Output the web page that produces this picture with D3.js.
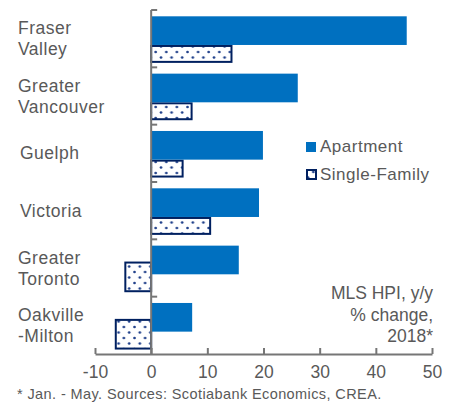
<!DOCTYPE html>
<html>
<head>
<meta charset="utf-8">
<script src="https://cdn.jsdelivr.net/npm/d3@7"></script>
<style>
  body { margin: 0; background: #fff; }
  svg { display: block; font-family: "Liberation Sans", Arial, sans-serif; }
</style>
</head>
<body>
<div id="vis"></div>
<script>
var categories = [["Fraser", "Valley"], ["Greater", "Vancouver"], ["Guelph"], ["Victoria"], ["Greater", "Toronto"], ["Oakville", "-Milton"]];
var apartment = [45.5, 26.1, 19.9, 19.2, 15.6, 7.3];
var singleFamily = [14.3, 7.2, 5.6, 10.5, -4.6, -6.3];
var xTicks = [-10, 0, 10, 20, 30, 40, 50];
var seriesNames = ["Apartment", "Single-Family"];
var noteLines = ["MLS HPI, y/y", "% change,", "2018*"];
var footnote = "* Jan. - May. Sources: Scotiabank Economics, CREA.";

var width = 456;
var height = 404;
var textColor = "#595959";
var axisColor = "#767676";
var blue = "#0070C0";
var navy = "#002060";

var svgElement = d3.select("#vis").append("svg")
    .attr("width", width)
    .attr("height", height);

// dotted fill for single-family bars
var pattern = svgElement.append("defs").append("pattern")
    .attr("id", "dots")
    .attr("patternUnits", "userSpaceOnUse")
    .attr("width", 10.6)
    .attr("height", 11);
pattern.append("rect").attr("width", 10.6).attr("height", 11).attr("fill", "#fff");
pattern.append("circle").attr("cx", 2).attr("cy", 2.5).attr("r", 1.35).attr("fill", "#1f3f8a");
pattern.append("circle").attr("cx", 7.3).attr("cy", 8).attr("r", 1.35).attr("fill", "#1f3f8a");

var x = d3.scaleLinear().domain([-10, 50]).range([95, 432]);
var y = d3.scaleBand().domain(d3.range(categories.length)).range([10, 354]);
var bw = y.bandwidth();

var aptTop = function(i) { return y(i) + bw * 0.11; };
var aptH = bw * 0.5;
var sfTop = function(i) { return y(i) + bw * 0.405; };
var sfH = bw * 0.5;

// visible top of a single-family bar (apartment bar hides the upper part when both are positive)
function sfVisibleTop(d, i) {
    var t = sfTop(i);
    if (d > 0 && apartment[i] > 0) t = Math.max(t, aptTop(i) + aptH + 1);
    return t;
}

// single-family bars
svgElement.append("g").selectAll("rect")
    .data(singleFamily)
    .enter().append("rect")
    .attr("x", function(d) { return Math.min(x(d), x(0)); })
    .attr("width", function(d) { return Math.abs(x(d) - x(0)); })
    .attr("y", sfVisibleTop)
    .attr("height", function(d, i) { return sfTop(i) + sfH - sfVisibleTop(d, i); })
    .attr("fill", "url(#dots)")
    .attr("stroke", navy)
    .attr("stroke-width", 2);

// apartment bars
svgElement.append("g").selectAll("rect")
    .data(apartment)
    .enter().append("rect")
    .attr("x", function(d) { return Math.min(x(d), x(0)); })
    .attr("width", function(d) { return Math.abs(x(d) - x(0)); })
    .attr("y", function(d, i) { return aptTop(i); })
    .attr("height", aptH)
    .attr("fill", blue);

// x axis
var xAxis = svgElement.append("g")
    .attr("transform", "translate(0,354)")
    .call(d3.axisBottom(x).tickValues(xTicks)
        .tickFormat(function(d) { return String(d); })
        .tickSizeInner(-6).tickSizeOuter(0).tickPadding(12));
xAxis.select(".domain").attr("stroke", axisColor).attr("stroke-width", 2);
xAxis.selectAll(".tick line").attr("stroke", axisColor).attr("stroke-width", 2);
xAxis.selectAll(".tick text")
    .attr("fill", textColor)
    .attr("font-size", 17.5)
    .attr("font-family", "Liberation Sans, Arial, sans-serif")
    .attr("dy", "0.71em");

// y axis at zero
var yAxis = svgElement.append("g").attr("transform", "translate(" + x(0) + ",0)");
yAxis.append("line")
    .attr("x1", 0).attr("x2", 0)
    .attr("y1", 10).attr("y2", 354)
    .attr("stroke", axisColor).attr("stroke-width", 2);
yAxis.selectAll(".cat-tick")
    .data(d3.range(categories.length))
    .enter().append("line")
    .attr("class", "cat-tick")
    .attr("x1", 0).attr("x2", 6)
    .attr("y1", function(i) { return y(i); })
    .attr("y2", function(i) { return y(i); })
    .attr("stroke", axisColor).attr("stroke-width", 2);

// category labels
svgElement.append("g").selectAll("text")
    .data(categories)
    .enter().append("text")
    .attr("x", function(d) { return d.length == 1 ? 20 : 18; })
    .attr("y", function(d, i) { return y(i) + bw / 2 - (d.length - 1) * 10.5 + 6; })
    .attr("fill", textColor)
    .attr("font-size", 17.5)
    .attr("letter-spacing", 0.5)
    .each(function(d) {
        var t = d3.select(this);
        d.forEach(function(line, k) {
            t.append("tspan")
                .attr("x", t.attr("x"))
                .attr("dy", k == 0 ? 0 : 21)
                .text(line);
        });
    });

// legend
var legend = svgElement.append("g").attr("transform", "translate(306,142)");
legend.append("rect")
    .attr("x", 0).attr("y", 0).attr("width", 10).attr("height", 10)
    .attr("fill", blue);
legend.append("rect")
    .attr("x", 1).attr("y", 28).attr("width", 9).attr("height", 9)
    .attr("fill", "url(#dots)").attr("stroke", navy).attr("stroke-width", 2);
legend.selectAll("text")
    .data(seriesNames)
    .enter().append("text")
    .attr("x", 14)
    .attr("y", function(d, i) { return 10 + i * 28; })
    .attr("fill", textColor)
    .attr("font-size", 17)
    .attr("letter-spacing", 0.5)
    .text(function(d) { return d; });

// note
svgElement.append("g").selectAll("text")
    .data(noteLines)
    .enter().append("text")
    .attr("x", 433)
    .attr("y", function(d, i) { return 299 + i * 21.5; })
    .attr("text-anchor", "end")
    .attr("fill", textColor)
    .attr("font-size", 17.5)
    .text(function(d) { return d; });

// footnote
svgElement.append("text")
    .attr("x", 17)
    .attr("y", 399)
    .attr("fill", textColor)
    .attr("font-size", 14.5)
    .attr("letter-spacing", 0.4)
    .text(footnote);
</script>
</body>
</html>
